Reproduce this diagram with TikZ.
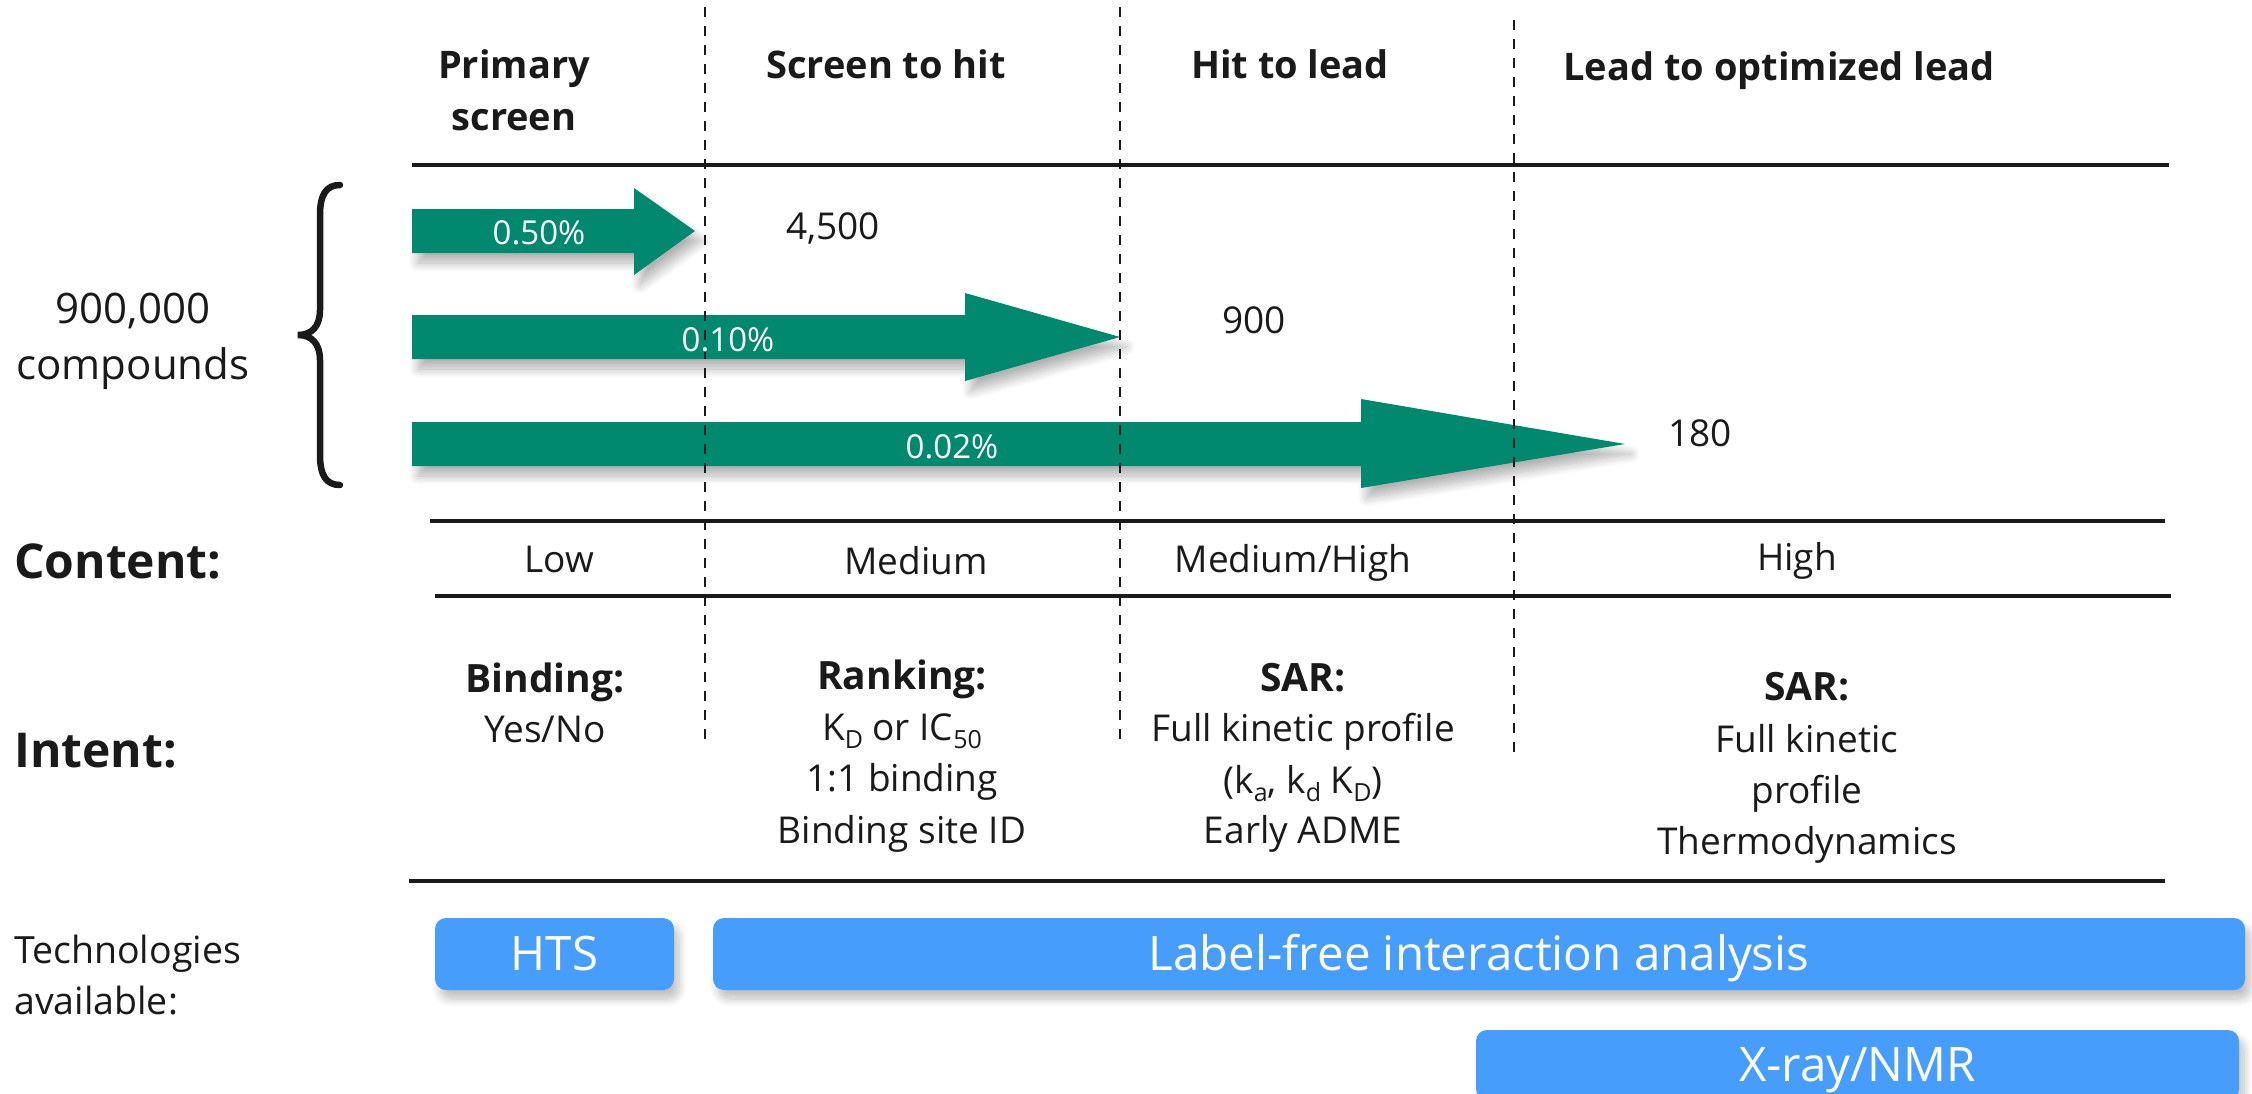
\documentclass[tikz,border=0pt]{standalone}
\usepackage{fontspec}
\setmainfont{Open Sans}
\usetikzlibrary{shadows.blur}

\definecolor{flowgreen}{RGB}{0,137,110}
\definecolor{techblue}{RGB}{70,157,252}
\definecolor{ink}{RGB}{26,26,26}

% lowered small text for subscripts
\newcommand{\sbs}[1]{\raisebox{-0.22em}{\fontsize{25}{25}\selectfont #1}}

\tikzset{
  rule/.style={ink, line width=3.5pt},
  stagediv/.style={ink, line width=1.8pt, dash pattern=on 10pt off 9pt},
  funnel/.style={fill=flowgreen,
    blur shadow={shadow xshift=6pt, shadow yshift=-10pt, shadow blur radius=9pt,
                 shadow blur steps=12, shadow opacity=30}},
  pct/.style={text=white, font=\fontsize{33}{40}\selectfont, anchor=base, inner sep=0pt},
  body/.style={text=ink, font=\fontsize{37}{44}\selectfont, anchor=base, inner sep=0pt},
  bodyb/.style={body, font=\fontsize{39}{46}\selectfont\bfseries},
  count/.style={body, font=\fontsize{42}{50}\selectfont},
  stagehead/.style={text=ink, font=\fontsize{38}{46}\selectfont\bfseries, anchor=base, inner sep=0pt},
  rowhead/.style={text=ink, font=\fontsize{48}{56}\selectfont\bfseries, anchor=base west, inner sep=0pt},
  sidenote/.style={text=ink, font=\fontsize{37.5}{44}\selectfont, anchor=base west, inner sep=0pt},
  techbox/.style={fill=techblue, rounded corners=11pt, text=white,
    font=\fontsize{47.5}{54}\selectfont, text height=33pt, text depth=0pt, inner sep=0pt,
    blur shadow={shadow xshift=5pt, shadow yshift=-9pt, shadow blur radius=8pt,
                 shadow blur steps=10, shadow opacity=25}},
}

\begin{document}
\begin{tikzpicture}[x=1pt, y=-1pt]
\useasboundingbox (0,0) rectangle (2252,1093);

% stage headings
\node[stagehead] (h1a) at (514,78) {Primary};
\node[stagehead] (h1b) at (514,130) {screen};
\node[stagehead] (h2) at (886,78) {Screen to hit};
\node[stagehead] (h3) at (1290,78) {Hit to lead};
\node[stagehead] (h4) at (1779,80) {Lead to optimized lead};

% horizontal rules
\draw[rule] (412,165) -- (2169,165);
\draw[rule] (430,521) -- (2165,521);
\draw[rule] (435,596) -- (2171,596);
\draw[rule] (409,881) -- (2165,881);

% funnel arrows
\fill[funnel] (412,209) -- (634,209) -- (634,188) -- (695,231) -- (634,275) -- (634,253) -- (412,253) -- cycle;
\fill[funnel] (412,315) -- (965,315) -- (965,293) -- (1120,337) -- (965,381) -- (965,359) -- (412,359) -- cycle;
\fill[funnel] (412,422) -- (1361,422) -- (1361,399) -- (1625,444) -- (1361,488) -- (1361,466) -- (412,466) -- cycle;

% stage dividers
\draw[stagediv] (705,7) -- (705,747);
\draw[stagediv] (1120,7) -- (1120,747);
\draw[stagediv] (1514,20) -- (1514,757);

% arrow labels and counts
\node[pct] (p1) at (539,244) {0.50\%};
\node[pct] (p2) at (728,351) {0.10\%};
\node[pct] (p3) at (952,458) {0.02\%};
\node[body] (n1) at (833,239) {4,500};
\node[body] (n2) at (1254,333) {900};
\node[body] (n3) at (1700,446) {180};

% library size and brace
\node[count] (lib1) at (133,323) {900,000};
\node[count] (lib2) at (133,379) {compounds};
\draw[ink, line width=6.5pt, line cap=round]
  (340,185) .. controls (326,185) and (320,195) .. (320,215) -- (320,310)
  .. controls (320,326) and (312,335) .. (298,335)
  .. controls (312,335) and (320,344) .. (320,360) -- (320,455)
  .. controls (320,475) and (326,485) .. (340,485);

% row headings
\node[rowhead] (content) at (14,578) {Content:};
\node[rowhead] (intent) at (14,767) {Intent:};
\node[sidenote] (tech1) at (14,963) {Technologies};
\node[sidenote] (tech2) at (14,1014) {available:};

% content row
\node[body] (c1) at (559,572) {Low};
\node[body] (c2) at (916,574) {Medium};
\node[body] (c3) at (1293,572) {Medium/High};
\node[body] (c4) at (1797,570) {High};

% intent row
\node[bodyb] (i1a) at (545,692) {Binding:};
\node[body] (i1b) at (545,742) {Yes/No};

\node[bodyb] (i2a) at (902,689) {Ranking:};
\node[body] (i2b) at (902,740) {K\sbs{D} or IC\sbs{50}};
\node[body] (i2c) at (902,791) {1:1 binding};
\node[body] (i2d) at (902,843) {Binding site ID};

\node[bodyb] (i3a) at (1303,691) {SAR:};
\node[body] (i3b) at (1303,741) {Full kinetic profile};
\node[body] (i3c) at (1303,793) {(k\sbs{a}, k\sbs{d} K\sbs{D})};
\node[body] (i3d) at (1303,843) {Early ADME};

\node[bodyb] (i4a) at (1807,700) {SAR:};
\node[body] (i4b) at (1807,752) {Full kinetic};
\node[body] (i4c) at (1807,803) {profile};
\node[body] (i4d) at (1807,854) {Thermodynamics};

% technology bars
\node[techbox, minimum width=239pt, minimum height=72pt] (hts) at (554.5,954) {HTS};
\node[techbox, minimum width=1532pt, minimum height=72pt] (lfia) at (1479,954) {Label-free interaction analysis};
\begin{scope}
  \clip (0,0) rectangle (2252,1093);
  \node[techbox, minimum width=763pt, minimum height=70pt] (xray) at (1857.5,1065) {X-ray/NMR};
\end{scope}
\end{tikzpicture}
\end{document}
